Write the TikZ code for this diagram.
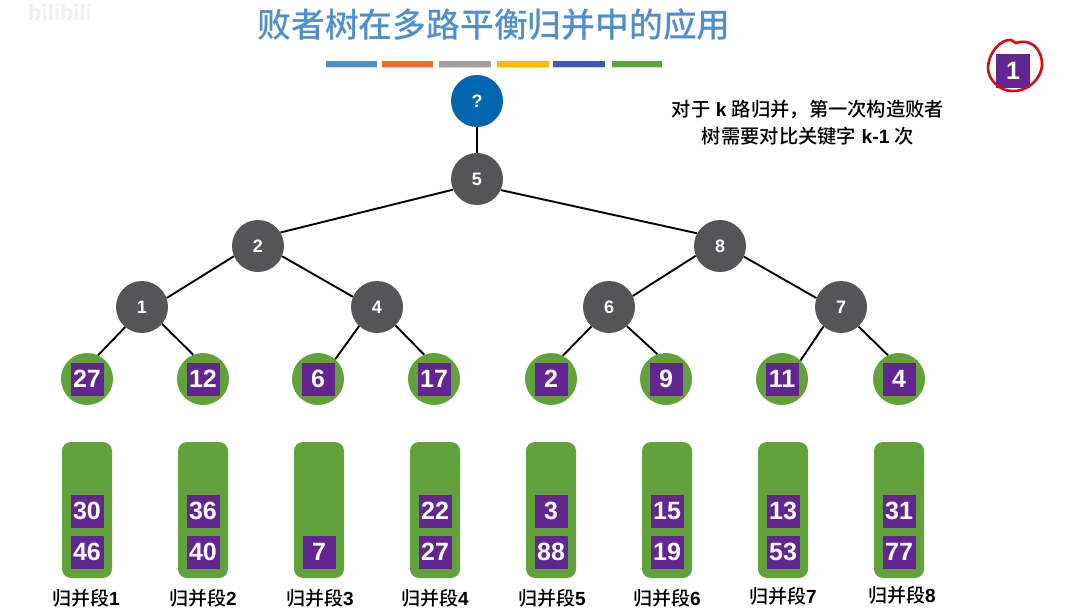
\documentclass[tikz,border=0pt]{standalone}
\usepackage{fontspec}
\setmainfont{Liberation Sans}
\newfontfamily\cjk[BoldFont={Noto Sans CJK SC Medium}]{Noto Sans CJK SC}
\usetikzlibrary{shadows}
\definecolor{titleblue}{RGB}{80,143,204}
\definecolor{rootblue}{RGB}{0,103,175}
\definecolor{treegray}{RGB}{85,85,88}
\definecolor{leafgreen}{RGB}{97,162,60}
\definecolor{keypurple}{RGB}{98,37,146}
\definecolor{inkred}{RGB}{205,15,25}
\definecolor{barorange}{RGB}{232,115,40}
\definecolor{bargray}{RGB}{160,160,160}
\definecolor{baryellow}{RGB}{255,183,10}
\definecolor{barblue}{RGB}{60,90,180}
\tikzset{
	treenode/.style={circle, fill=treegray, text=white, minimum size=52pt, inner sep=0pt, font=\bfseries\fontsize{18}{18}\selectfont},
	leafnode/.style={circle, fill=leafgreen, minimum size=52pt, inner sep=0pt},
	keybox/.style={rectangle, fill=keypurple, text=white, minimum size=33pt, inner sep=0pt, font=\bfseries\fontsize{25}{25}\selectfont},
	segbox/.style={rectangle, rounded corners=9pt, fill=leafgreen, minimum width=50pt, minimum height=136pt, inner sep=0pt},
	seglabel/.style={inner sep=0pt, font=\bfseries\fontsize{19}{19}\selectfont},
	edge/.style={line width=1.9pt},
	bar/.style={drop shadow={shadow xshift=0pt, shadow yshift=-1.5pt, opacity=.3}},
}
\begin{document}
\begin{tikzpicture}[x=1pt, y=-1pt]
	\useasboundingbox[fill=white] (0,0) rectangle (1079,612);
	% title and colour bars
	\node[text=titleblue, inner sep=0pt, font=\cjk\bfseries\fontsize{33.8}{34}\selectfont] (title) at (494,25) {败者树在多路平衡归并中的应用};
	\foreach \xa/\xb/\col in {326/377/titleblue, 382/433/barorange, 439/491/bargray, 497/549/baryellow, 553/605/barblue, 612/662/leafgreen}
		\fill[\col, bar] (\xa,61) rectangle (\xb,67);
	\node[text=gray!12, inner sep=0pt, font=\bfseries\fontsize{22}{22}\selectfont] (mark) at (60,13) {bilibili};
	% tree
	\node[treenode, fill=rootblue] (root) at (477,101) {?};
	\node[treenode] (n5) at (477,179) {5};
	\node[treenode] (n2) at (258,246) {2};
	\node[treenode] (n8) at (720,246) {8};
	\node[treenode] (n1) at (142,307) {1};
	\node[treenode] (n4) at (377,307) {4};
	\node[treenode] (n6) at (609,307) {6};
	\node[treenode] (n7) at (841,307) {7};
	% leaves
	\foreach \name/\x/\val in {a/87/27, b/203/12, c/318/6, d/434/17, e/551/2, f/666/9, g/782/11, h/899/4} {
		\node[leafnode] (leaf\name) at (\x,379) {};
		\node[keybox] (key\name) at (\x,379) {\val};
	}
	% edges
	\draw[edge] (root) -- (n5);
	\draw[edge] (n5.204) -- (n2.31);
	\draw[edge] (n5.-25) -- (n8.151);
	\draw[edge] (n2.203) -- (n1.20);
	\draw[edge] (n2.-23) -- (n4.157);
	\draw[edge] (n8.202) -- (n6.25);
	\draw[edge] (n8.-24) -- (n7.160);
	\draw[edge] (n1.230) -- (leafa.65);
	\draw[edge] (n1.-40) -- (leafb.112);
	\draw[edge] (n4.227) -- (leafc.49);
	\draw[edge] (n4.-45) -- (leafd.112);
	\draw[edge] (n6.228) -- (leafe.63);
	\draw[edge] (n6.-47) -- (leaff.109);
	\draw[edge] (n7.228) -- (leafg.45);
	\draw[edge] (n7.-48) -- (leafh.115);
	% merge segments
	\foreach \name/\x/\top/\low/\num/\lx/\ly in {a/87/30/46/1/86/598, b/203/36/40/2/203/598, d/435/22/27/4/435/598, e/551/3/88/5/552/598, f/667/15/19/6/667/598, g/783/13/53/7/783/596, h/899/31/77/8/902/595} {
		\node[segbox] (seg\name) at (\x,510) {};
		\node[keybox] (top\name) at (\x,511) {\top};
		\node[keybox] (low\name) at (\x,552) {\low};
		\node[seglabel] (lab\name) at (\lx,\ly) {{\cjk\bfseries 归并段}\num};
	}
	\node[segbox] (segc) at (319,510) {};
	\node[keybox] (lowc) at (319,552) {7};
	\node[seglabel] (labc) at (320,598) {{\cjk\bfseries 归并段}3};
	% note
	\node[align=center, inner sep=0pt, font=\fontsize{19.3}{27}\selectfont] (note) at (808,123) {{\cjk\bfseries 对于} \textbf{k} {\cjk\bfseries 路归并，第一次构造败者}\\{\cjk\bfseries 树需要对比关键字} \textbf{k-1} {\cjk\bfseries 次}};
	% current minimum with the hand drawn ring
	\node[keybox, minimum size=34pt] (minkey) at (1013,71) {1};
	\draw[inkred, line width=2.6pt, line cap=round] (1020,42) .. controls (1034,40) and (1042,52) .. (1042,64) .. controls (1042,80) and (1026,92) .. (1012,91) .. controls (998,91) and (988,78) .. (988,68) .. controls (988,54) and (1000,39) .. (1011,40) -- (1016,43) -- (1020,42);
\end{tikzpicture}
\end{document}
